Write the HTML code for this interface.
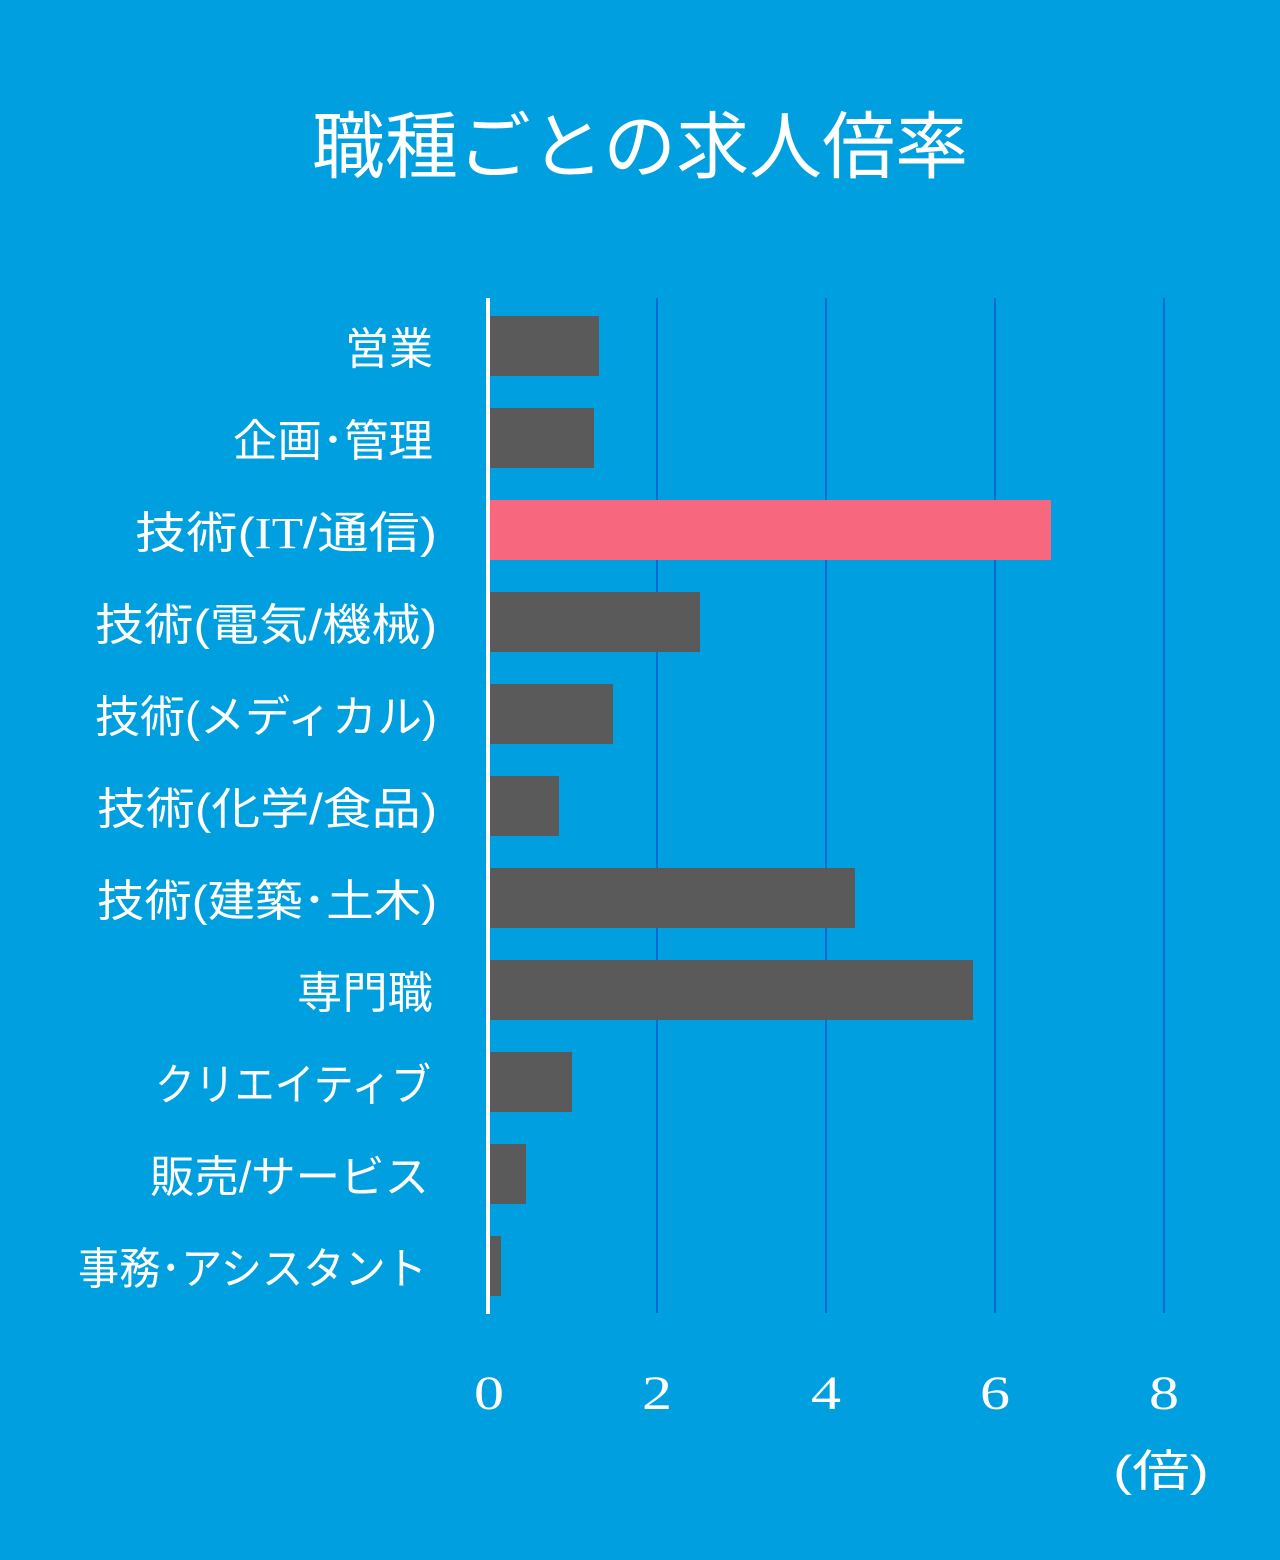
<!DOCTYPE html>
<html><head><meta charset="utf-8"><style>
html,body{margin:0;padding:0;background:#00a0e0;}
svg{display:block}
</style></head><body>
<svg width="1280" height="1560" viewBox="0 0 1280 1560" xmlns="http://www.w3.org/2000/svg">
<rect width="1280" height="1560" fill="#00a0e0"/>
<text x="640" y="172" text-anchor="middle" fill="#fff" font-size="73" font-family="'Liberation Sans','Noto Sans CJK JP',sans-serif">職種ごとの求人倍率</text>
<g stroke="#0a6ad2" stroke-width="2">
<line x1="657" y1="298" x2="657" y2="1313"/>
<line x1="826" y1="298" x2="826" y2="1313"/>
<line x1="995" y1="298" x2="995" y2="1313"/>
<line x1="1164" y1="298" x2="1164" y2="1313"/>
</g>
<g fill="#5b5a5b">
<rect x="490" y="316" width="109" height="60"/>
<rect x="490" y="408" width="104" height="60"/>
<rect x="490" y="500" width="561" height="60" fill="#f7687f"/>
<rect x="490" y="592" width="210" height="60"/>
<rect x="490" y="684" width="123" height="60"/>
<rect x="490" y="776" width="69" height="60"/>
<rect x="490" y="868" width="365" height="60"/>
<rect x="490" y="960" width="483" height="60"/>
<rect x="490" y="1052" width="82" height="60"/>
<rect x="490" y="1144" width="36" height="60"/>
<rect x="490" y="1236" width="11" height="60"/>
</g>
<rect x="486" y="298" width="4" height="1016" fill="#fff"/>
<g fill="#fff" font-size="44" font-family="'Liberation Sans','Noto Sans CJK JP',sans-serif" lengthAdjust="spacingAndGlyphs">
<text x="345" y="364" textLength="88" lengthAdjust="spacingAndGlyphs">営業</text>
<text x="233" y="456" textLength="200" lengthAdjust="spacingAndGlyphs">企画･管理</text>
<text x="135" y="548" textLength="302" lengthAdjust="spacingAndGlyphs">技術(<tspan font-family="'Liberation Serif',serif">IT</tspan>/通信)</text>
<text x="95" y="640" textLength="342" lengthAdjust="spacingAndGlyphs">技術(電気/機械)</text>
<text x="95" y="732" textLength="342" lengthAdjust="spacingAndGlyphs">技術(メディカル)</text>
<text x="97" y="824" textLength="340" lengthAdjust="spacingAndGlyphs">技術(化学/食品)</text>
<text x="97" y="916" textLength="340" lengthAdjust="spacingAndGlyphs">技術(建築･土木)</text>
<text x="297" y="1008" textLength="136" lengthAdjust="spacingAndGlyphs">専門職</text>
<text x="155" y="1100" textLength="276" lengthAdjust="spacingAndGlyphs">クリエイティブ</text>
<text x="150" y="1192" textLength="279" lengthAdjust="spacingAndGlyphs">販売/サービス</text>
<text x="78" y="1284" textLength="349" lengthAdjust="spacingAndGlyphs">事務･アシスタント</text>
</g>
<g fill="#fff" font-size="48" text-anchor="middle" font-family="'Liberation Serif',serif">
<text x="489" y="1409" transform="translate(489 0) scale(1.25 1) translate(-489 0)">0</text>
<text x="657" y="1409" transform="translate(657 0) scale(1.25 1) translate(-657 0)">2</text>
<text x="826" y="1409" transform="translate(826 0) scale(1.25 1) translate(-826 0)">4</text>
<text x="995" y="1409" transform="translate(995 0) scale(1.25 1) translate(-995 0)">6</text>
<text x="1164" y="1409" transform="translate(1164 0) scale(1.25 1) translate(-1164 0)">8</text>
</g>
<text x="1113" y="1486" textLength="96" lengthAdjust="spacingAndGlyphs" fill="#fff" font-size="44" font-family="'Liberation Sans','Noto Sans CJK JP',sans-serif">(倍)</text>
</svg>
</body></html>
